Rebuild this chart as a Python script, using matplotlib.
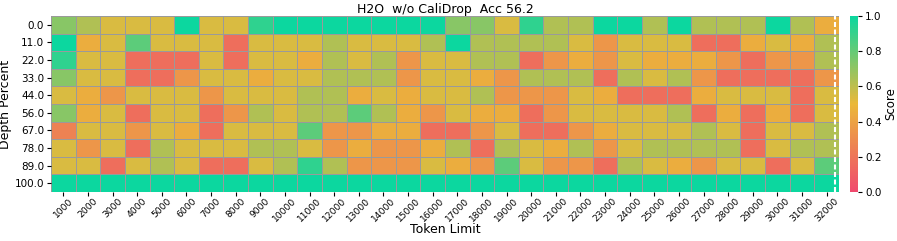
import matplotlib
matplotlib.use('Agg')
import matplotlib.pyplot as plt
from matplotlib.colors import LinearSegmentedColormap
import numpy as np

token_limits = list(range(1000, 33000, 1000))
depth_percents = [0.0, 11.0, 22.0, 33.0, 44.0, 56.0, 67.0, 78.0, 89.0, 100.0]

# score per token limit, one list per depth
depth_00 = [.72, .63, .54, .54, .54, 1.0, .54, .54, .92, 1.0, 1.0, 1.0, 1.0, 1.0, 1.0, 1.0,
            .72, .72, .54, .92, .63, .63, 1.0, 1.0, .63, 1.0, .63, .63, .63, 1.0, .63, .45]
depth_11 = [1.0, .45, .54, .82, .54, .54, .54, .17, .54, .54, .54, .63, .54, .54, .54, .63,
            1.0, .63, .63, .63, .63, .54, .35, .54, .54, .54, .17, .17, .45, .54, .45, .63]
depth_22 = [.92, .54, .54, .17, .17, .17, .54, .17, .54, .54, .45, .63, .54, .63, .35, .54,
            .54, .63, .63, .17, .35, .45, .35, .54, .45, .45, .45, .35, .17, .35, .35, .63]
depth_33 = [.72, .54, .54, .17, .17, .35, .54, .54, .45, .54, .54, .63, .63, .63, .35, .54,
            .54, .45, .35, .63, .63, .63, .17, .63, .54, .63, .35, .17, .17, .17, .17, .35]
depth_44 = [.54, .45, .35, .54, .54, .54, .35, .54, .54, .54, .63, .63, .45, .54, .45, .54,
            .54, .63, .35, .35, .35, .54, .45, .17, .17, .17, .45, .54, .54, .54, .17, .54]
depth_56 = [.72, .45, .54, .17, .54, .54, .17, .35, .63, .54, .63, .63, .82, .63, .45, .35,
            .54, .45, .45, .17, .35, .54, .54, .54, .54, .63, .17, .45, .17, .45, .17, .54]
depth_67 = [.26, .54, .54, .35, .54, .45, .17, .54, .54, .54, .82, .35, .35, .45, .45, .17,
            .17, .35, .54, .17, .17, .35, .45, .54, .54, .54, .63, .54, .17, .54, .54, .63]
depth_78 = [.54, .35, .54, .17, .63, .54, .54, .54, .63, .63, .54, .35, .45, .35, .35, .45,
            .63, .17, .63, .54, .45, .63, .35, .54, .63, .63, .63, .63, .17, .54, .63, .63]
depth_89 = [.54, .54, .17, .54, .63, .54, .17, .17, .54, .63, .92, .63, .35, .35, .35, .54,
            .45, .35, .82, .54, .35, .35, .17, .63, .54, .45, .35, .54, .54, .17, .54, .82]
depth_100 = [1.0] * 32

scores = np.array([depth_00, depth_11, depth_22, depth_33, depth_44,
                   depth_56, depth_67, depth_78, depth_89, depth_100])

cmap = LinearSegmentedColormap.from_list('custom_cmap', ['#F0496E', '#EBB839', '#0CD79F'])

fig = plt.figure(figsize=(8.97, 2.41), dpi=100)
ax = fig.add_axes([0.0569, 0.2033, 0.8784, 0.7303])
mesh = ax.pcolormesh(scores, cmap=cmap, vmin=0, vmax=1, edgecolors='#9a9a9a', linewidth=0.6)
ax.set_xlim(0, scores.shape[1])
ax.set_ylim(scores.shape[0], 0)
for sp in ax.spines.values():
    sp.set_visible(False)

ax.set_xticks(np.arange(len(token_limits)) + 0.5)
ax.set_xticklabels([str(t) for t in token_limits], rotation=45, fontsize=6.6)
ax.set_yticks(np.arange(len(depth_percents)) + 0.5)
ax.set_yticklabels([str(d) for d in depth_percents], fontsize=7.5)
ax.tick_params(length=3, width=0.8, pad=2)
ax.tick_params(axis='x', pad=0.3)

ax.axvline(31.84, color='white', ls='--', lw=1.5, dashes=(2.4, 1.2))

ax.set_xlabel('Token Limit', fontsize=9)
ax.xaxis.set_label_coords(0.5, -0.178)
ax.set_ylabel('Depth Percent', fontsize=9, labelpad=2)
ax.set_title('H2O  w/o CaliDrop  Acc 56.2', fontsize=9, pad=2)

cax = fig.add_axes([0.9476, 0.2033, 0.0089, 0.7303])
cb = fig.colorbar(mesh, cax=cax)
cb.outline.set_visible(False)
cb.set_ticks([0.0, 0.2, 0.4, 0.6, 0.8, 1.0])
cb.ax.tick_params(labelsize=7.5, length=3, width=0.8, pad=2)
cb.set_label('Score', fontsize=8.5, labelpad=2)

fig.savefig('out.png', dpi=100)
